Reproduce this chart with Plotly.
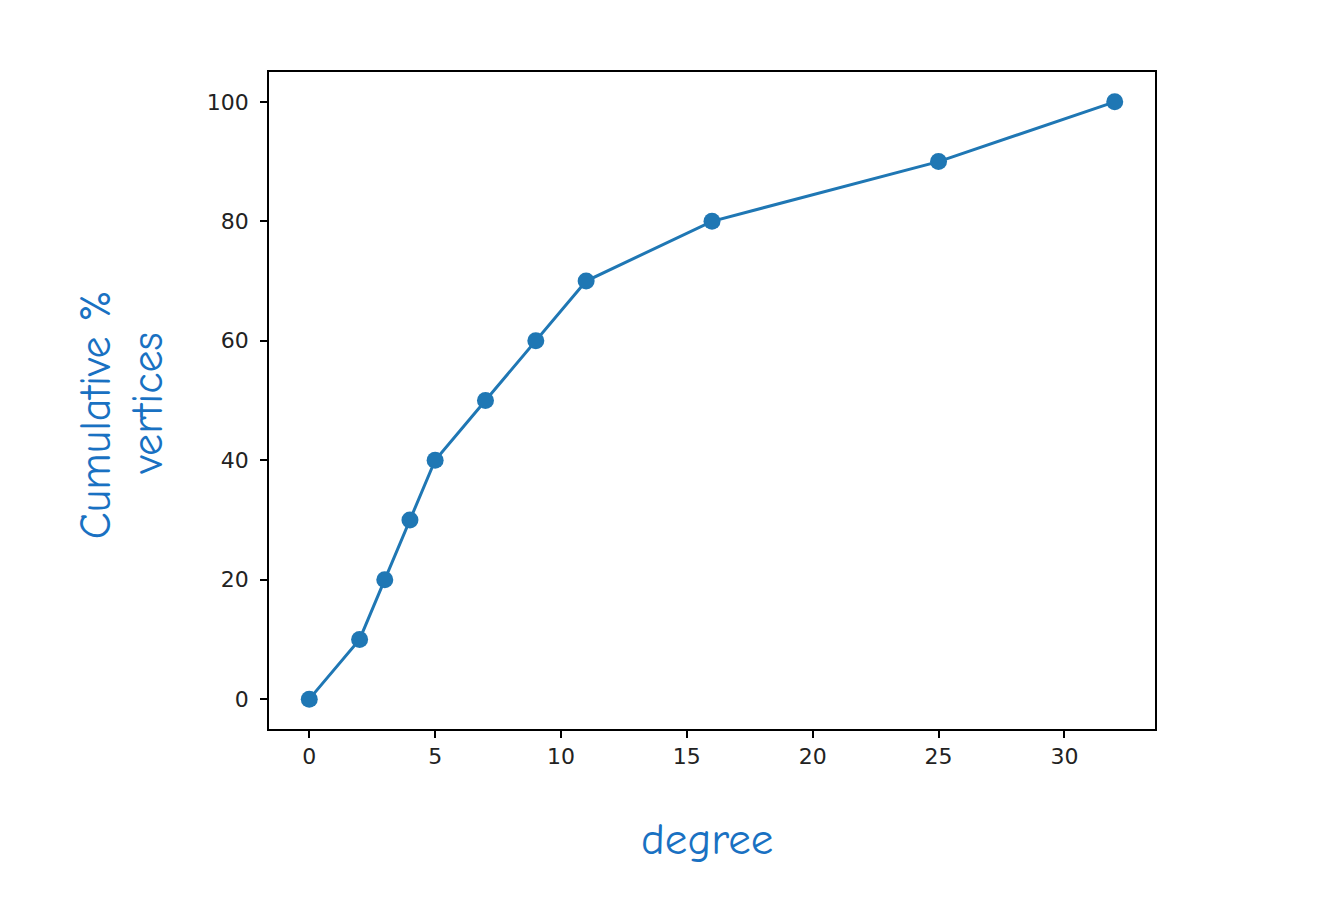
import plotly.graph_objects as go

degree = [0, 2, 3, 4, 5, 7, 9, 11, 16, 25, 32]
cum_pct = [0, 10, 20, 30, 40, 50, 60, 70, 80, 90, 100]
x_ticks = [0, 5, 10, 15, 20, 25, 30]
y_ticks = [0, 20, 40, 60, 80, 100]
x_label = "degree"
y_label_lines = ["Cumulative %", "vertices"]

BLUE = "#1f77b4"
LABEL = "#1971c2"
HAND = "Comic Neue, Comic Sans MS, DejaVu Sans"

fig = go.Figure()
fig.add_trace(go.Scatter(
    x=degree, y=cum_pct, mode="lines+markers",
    line=dict(color=BLUE, width=3),
    marker=dict(color=BLUE, size=17),
    showlegend=False, cliponaxis=False,
))

axis_common = dict(
    showgrid=False, zeroline=False, showline=True, linecolor="black", linewidth=1.6,
    mirror=True, ticks="outside", ticklen=7, tickwidth=1.6, tickcolor="black",
    tickfont=dict(family="DejaVu Sans", size=22, color="#222222"),
)

fig.update_layout(
    width=1324, height=898,
    margin=dict(l=261, r=177, t=64, b=177),
    paper_bgcolor="white", plot_bgcolor="white",
    xaxis=dict(range=[-1.6, 33.6], tickvals=x_ticks, ticklabelstandoff=0, **axis_common),
    yaxis=dict(range=[-5, 105], tickvals=y_ticks, ticklabelstandoff=7, **axis_common),
)

fig.add_annotation(
    text=x_label, xref="paper", yref="paper", x=0.494, y=-0.167,
    showarrow=False, font=dict(family=HAND, size=45, color=LABEL),
    xanchor="center", yanchor="middle",
)
for txt, px, py in zip(y_label_lines, [-0.195, -0.137], [0.478, 0.495]):
    fig.add_annotation(
        text=txt, xref="paper", yref="paper", x=px, y=py,
        showarrow=False, textangle=-90,
        font=dict(family=HAND, size=44, color=LABEL),
        xanchor="center", yanchor="middle",
    )

fig.write_html("out.html")
